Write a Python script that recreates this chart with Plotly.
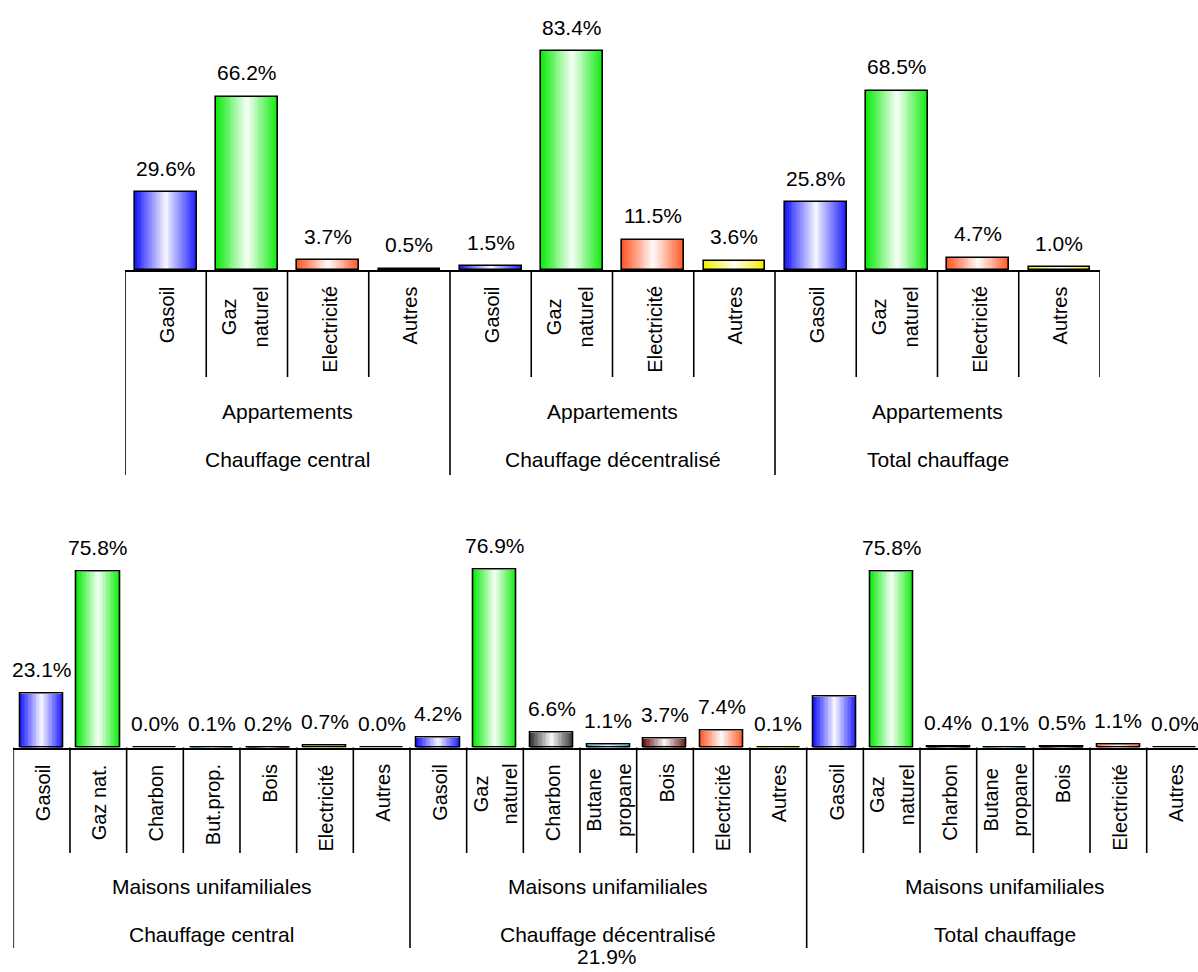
import plotly.graph_objects as go

# ---------------- data ----------------
top_categories = ["Gasoil", "Gaz\nnaturel", "Electricité", "Autres",
                  "Gasoil", "Gaz\nnaturel", "Electricité", "Autres",
                  "Gasoil", "Gaz\nnaturel", "Electricité", "Autres"]
top_values = [29.6, 66.2, 3.7, 0.5,
              1.5, 83.4, 11.5, 3.6,
              25.8, 68.5, 4.7, 1.0]
top_fuels = ["gasoil", "gaz", "elec", "autres"] * 3
top_level2 = ["Appartements", "Appartements", "Appartements"]
top_level3 = ["Chauffage central", "Chauffage décentralisé", "Total chauffage"]
top_group_sizes = [4, 4, 4]

bottom_categories = ["Gasoil", "Gaz nat.", "Charbon", "But.prop.", "Bois", "Electricité", "Autres",
                     "Gasoil", "Gaz\nnaturel", "Charbon", "Butane\npropane", "Bois", "Electricité", "Autres",
                     "Gasoil", "Gaz\nnaturel", "Charbon", "Butane\npropane", "Bois", "Electricité", "Autres"]
bottom_values = [23.1, 75.8, 0.0, 0.1, 0.2, 0.7, 0.0,
                 4.2, 76.9, 6.6, 1.1, 3.7, 7.4, 0.1,
                 21.9, 75.8, 0.4, 0.1, 0.5, 1.1, 0.0]
bottom_fuels = ["gasoil", "gaz", "charbon", "butane", "bois", "autres", "autres",
                "gasoil", "gaz", "charbon", "butane", "bois", "elec", "autres",
                "gasoil", "gaz", "charbon", "butane", "bois", "elec", "autres"]
bottom_level2 = ["Maisons unifamiliales", "Maisons unifamiliales", "Maisons unifamiliales"]
bottom_level3 = ["Chauffage central", "Chauffage décentralisé", "Total chauffage"]
bottom_group_sizes = [7, 7, 7]
# value label of this bar (index 14 in the bottom chart) is shown detached, below the chart
bottom_detached_label = 14

FUEL_COLORS = {
    "gasoil": "#1e1eff",
    "gaz": "#12ec12",
    "elec": "#ff5c2c",
    "autres": "#f0f000",
    "charbon": "#383838",
    "butane": "#2a98d0",
    "bois": "#6a1818",
}

# ---------------- layout helpers ----------------
W, H = 1198, 972
FONT = "Liberation Sans, Arial, sans-serif"


def py(ypx):
    return 1 - ypx / H


def mix(hexcol, d):
    hexcol = hexcol.lstrip("#")
    r, g, b = (int(hexcol[i:i + 2], 16) for i in (0, 2, 4))
    r = round(255 + (r - 255) * d)
    g = round(255 + (g - 255) * d)
    b = round(255 + (b - 255) * d)
    return f"rgb({r},{g},{b})"


fig = go.Figure()
BAR_W = 0.76
N_LAYERS = 16

charts = [
    dict(cats=top_categories, vals=top_values, fuels=top_fuels, l2=top_level2, l3=top_level3,
         sizes=top_group_sizes, xa="x", ya="y",
         base=270, cat_end=377, grp_end=475, lab_top=284, l2_y=412, l3_y=459.5,
         nl_shift=-2, nl_size=24, right_edge=True),
    dict(cats=bottom_categories, vals=bottom_values, fuels=bottom_fuels, l2=bottom_level2,
         l3=bottom_level3, sizes=bottom_group_sizes, xa="x2", ya="y2",
         base=747.5, cat_end=853, grp_end=948, lab_top=762, l2_y=886.5, l3_y=934,
         nl_shift=0, nl_size=23, right_edge=False),
]

shapes = []
annotations = []

for ci, ch in enumerate(charts):
    n = len(ch["cats"])
    xs = list(range(n))
    base_cols = [FUEL_COLORS[f] for f in ch["fuels"]]
    # gradient layers: colour at the bar edges, white in the middle
    for j in range(N_LAYERS):
        d = 1 - j / N_LAYERS
        fig.add_trace(go.Bar(
            x=xs, y=ch["vals"], width=BAR_W * d,
            marker=dict(color=[mix(c, d) for c in base_cols], line=dict(width=0)),
            xaxis=ch["xa"], yaxis=ch["ya"], showlegend=False, hoverinfo="skip",
        ))
    # outline
    fig.add_trace(go.Bar(
        x=xs, y=ch["vals"], width=BAR_W,
        marker=dict(color="rgba(0,0,0,0)", line=dict(color="black", width=1.6)),
        xaxis=ch["xa"], yaxis=ch["ya"], showlegend=False,
        hovertemplate="%{y:.1f}%<extra></extra>",
    ))

    # value labels
    for i, v in enumerate(ch["vals"]):
        if ci == 1 and i == bottom_detached_label:
            annotations.append(dict(
                text=f"{v:.1f}%", xref="paper", yref="paper", x=607 / W, y=py(956),
                xanchor="center", yanchor="middle", showarrow=False,
                font=dict(family=FONT, size=21, color="black")))
            continue
        annotations.append(dict(
            text=f"{v:.1f}%", xref=ch["xa"], yref=ch["ya"], x=i, y=v, yshift=24,
            xanchor="center", yanchor="middle", showarrow=False,
            font=dict(family=FONT, size=21, color="black")))

    # category labels (rotated)
    for i, c in enumerate(ch["cats"]):
        lines = c.split("\n")
        if len(lines) > 1:
            # larger annotation font gives the wider line spacing; glyphs kept at 20px
            txt = "<br>".join(f"<span style='font-size:20px'>{ln}</span>" for ln in lines)
            fsize, xshift = ch["nl_size"], ch["nl_shift"]
        else:
            txt, fsize, xshift = c, 20, 1
        annotations.append(dict(
            text=txt, xref=ch["xa"], yref="paper", x=i, y=py(ch["lab_top"]),
            xanchor="center", yanchor="top", textangle=-90, showarrow=False,
            xshift=xshift, font=dict(family=FONT, size=fsize, color="black")))

    # group boundaries
    group_starts = []
    s = 0
    for g in ch["sizes"]:
        group_starts.append(s)
        s += g
    group_edges = set(group_starts)
    for i in range(n + 1):
        if i == n and not ch["right_edge"]:
            continue
        is_group = i in group_edges
        yend = ch["grp_end"] if is_group else ch["cat_end"]
        shapes.append(dict(
            type="line", xref=ch["xa"], yref="paper", x0=i - 0.5, x1=i - 0.5,
            y0=py(ch["base"]), y1=py(yend), line=dict(color="black", width=1.6)))

    # group labels
    for gi, (gs, g) in enumerate(zip(group_starts, ch["sizes"])):
        xc = gs + (g - 1) / 2
        annotations.append(dict(
            text=ch["l2"][gi], xref=ch["xa"], yref="paper", x=xc, y=py(ch["l2_y"]),
            xanchor="center", yanchor="middle", showarrow=False,
            font=dict(family=FONT, size=21, color="black")))
        annotations.append(dict(
            text=ch["l3"][gi], xref=ch["xa"], yref="paper", x=xc, y=py(ch["l3_y"]),
            xanchor="center", yanchor="middle", showarrow=False,
            font=dict(family=FONT, size=21, color="black")))

axis_common = dict(showticklabels=False, ticks="", showgrid=False, zeroline=False,
                   showline=True, linecolor="black", linewidth=1.6, fixedrange=True)
yaxis_common = dict(visible=False, range=[0, 100], showgrid=False, zeroline=False, fixedrange=True)

fig.update_layout(
    width=W, height=H,
    margin=dict(l=0, r=0, t=0, b=0),
    paper_bgcolor="white", plot_bgcolor="rgba(0,0,0,0)",
    barmode="overlay", bargap=0,
    showlegend=False,
    xaxis=dict(domain=[125 / W, 1100 / W], range=[-0.5, len(top_values) - 0.5],
               anchor="y", **axis_common),
    yaxis=dict(domain=[py(270), py(8)], anchor="x", **yaxis_common),
    xaxis2=dict(domain=[13.3 / W, 1.0], range=[-0.5, -0.5 + (W - 13.3) / 56.67],
                anchor="y2", **axis_common),
    yaxis2=dict(domain=[py(747.5), py(515.5)], anchor="x2", **yaxis_common),
    shapes=shapes,
    annotations=annotations,
    font=dict(family=FONT, size=20, color="black"),
)

fig.write_html(
    "out.html",
    config={"displayModeBar": False},
    post_script="document.body.style.margin='0';document.body.style.overflow='hidden';",
)
